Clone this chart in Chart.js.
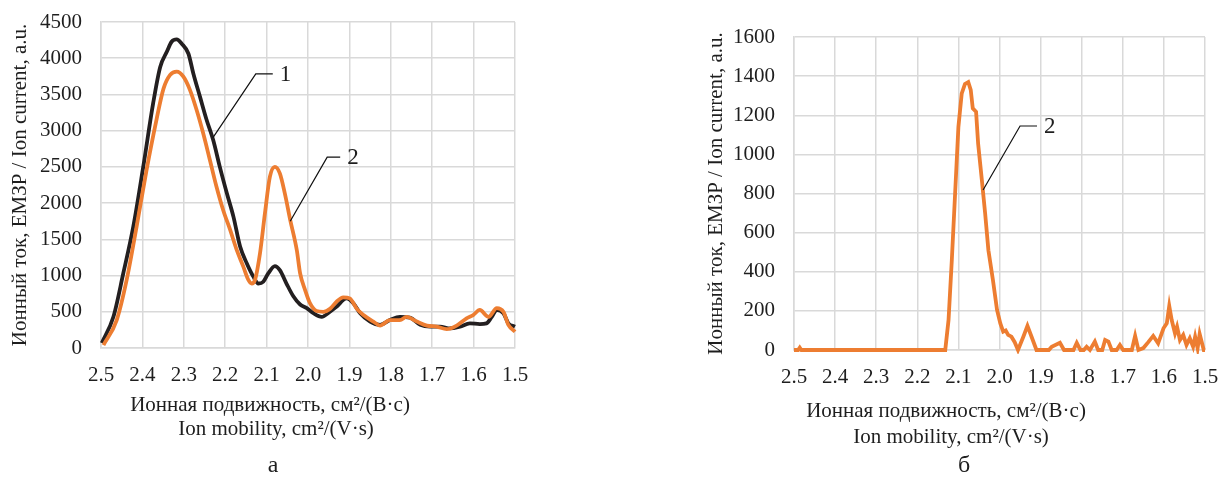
<!DOCTYPE html>
<html>
<head>
<meta charset="utf-8">
<script src="https://cdn.jsdelivr.net/npm/chart.js@4.4.1/dist/chart.umd.min.js"></script>
<style>
  html, body { margin: 0; padding: 0; background: #fff; }
  #page { position: relative; width: 1218px; height: 479px; overflow: hidden; }
  .panel { position: absolute; top: 0; width: 609px; height: 479px; }
</style>
</head>
<body>
<div id="page">
  <div class="panel" style="left:0"><canvas id="chartA" width="609" height="479"></canvas></div>
  <div class="panel" style="left:609px"><canvas id="chartB" width="609" height="479"></canvas></div>
</div>
<script>
// ---- Panel а: ion-mobility spectra 1 and 2 ----
const mobilityA1 = [2.498, 2.47, 2.446, 2.422, 2.398, 2.374, 2.357, 2.341, 2.329, 2.317, 2.305, 2.289, 2.277, 2.261, 2.245, 2.229, 2.213, 2.196, 2.18, 2.164, 2.148, 2.132, 2.12, 2.108, 2.096, 2.08, 2.068, 2.052, 2.035, 2.019, 2.003, 1.987, 1.967, 1.947, 1.931, 1.907, 1.89, 1.874, 1.85, 1.826, 1.802, 1.778, 1.754, 1.729, 1.705, 1.681, 1.657, 1.633, 1.609, 1.585, 1.569, 1.556, 1.544, 1.528, 1.516, 1.5];
const currentA1  = [69, 432, 1035, 1675, 2500, 3380, 3880, 4090, 4230, 4260, 4200, 4065, 3790, 3470, 3150, 2870, 2500, 2135, 1810, 1400, 1170, 985, 890, 915, 1030, 1130, 1075, 890, 710, 600, 550, 480, 430, 500, 570, 685, 615, 480, 365, 320, 385, 430, 420, 320, 295, 295, 270, 295, 340, 330, 340, 430, 525, 480, 340, 295];

const mobilityA2 = [2.494, 2.462, 2.438, 2.414, 2.39, 2.366, 2.349, 2.333, 2.317, 2.301, 2.285, 2.269, 2.253, 2.237, 2.221, 2.205, 2.188, 2.172, 2.156, 2.144, 2.136, 2.128, 2.116, 2.104, 2.092, 2.08, 2.068, 2.056, 2.043, 2.027, 2.019, 2.007, 1.995, 1.979, 1.963, 1.947, 1.931, 1.915, 1.899, 1.882, 1.866, 1.842, 1.826, 1.802, 1.778, 1.762, 1.737, 1.713, 1.689, 1.665, 1.641, 1.617, 1.601, 1.585, 1.564, 1.544, 1.528, 1.516, 1.5];
const currentA2  = [41, 386, 940, 1675, 2455, 3150, 3580, 3770, 3815, 3745, 3560, 3285, 2960, 2595, 2225, 1905, 1630, 1350, 1120, 940, 890, 940, 1305, 1860, 2365, 2500, 2410, 2135, 1770, 1350, 1030, 800, 615, 510, 500, 540, 640, 700, 685, 540, 455, 365, 310, 385, 385, 430, 365, 310, 295, 260, 310, 410, 455, 525, 430, 550, 500, 320, 225];

// ---- Panel б: spectrum 2 ----
const mobilityB2 = [2.5, 2.49, 2.486, 2.482, 2.132, 2.124, 2.116, 2.108, 2.1, 2.092, 2.084, 2.076, 2.07, 2.065, 2.057, 2.052, 2.043, 2.035, 2.027, 2.016, 2.006, 1.998, 1.991, 1.985, 1.979, 1.971, 1.963, 1.955, 1.942, 1.932, 1.922, 1.91, 1.88, 1.873, 1.853, 1.843, 1.82, 1.812, 1.803, 1.795, 1.788, 1.78, 1.768, 1.76, 1.75, 1.743, 1.735, 1.727, 1.715, 1.707, 1.699, 1.678, 1.67, 1.662, 1.65, 1.638, 1.626, 1.614, 1.601, 1.593, 1.587, 1.581, 1.573, 1.568, 1.561, 1.553, 1.545, 1.537, 1.529, 1.524, 1.518, 1.513, 1.503, 1.5];
const currentB2  = [0, 0, 12, 0, 0, 153, 460, 800, 1140, 1310, 1360, 1370, 1330, 1235, 1218, 1055, 870, 700, 510, 358, 205, 136, 94, 100, 77, 68, 40, 0, 68, 123, 68, 0, 0, 17, 37, 0, 0, 37, 0, 0, 17, 0, 43, 0, 0, 51, 43, 0, 0, 26, 0, 0, 72, 0, 10, 40, 72, 34, 111, 136, 225, 153, 85, 119, 51, 77, 26, 60, 17, 68, 9, 82, 0, 0];

// ---- Axis ticks ----
const mobilityTicks = ['2.5', '2.4', '2.3', '2.2', '2.1', '2.0', '1.9', '1.8', '1.7', '1.6', '1.5'];
const currentTicksA = [0, 500, 1000, 1500, 2000, 2500, 3000, 3500, 4000, 4500];
const currentTicksB = [0, 200, 400, 600, 800, 1000, 1200, 1400, 1600];

// ---- Texts ----
const yTitle = 'Ионный ток, ЕМЗР / Ion current, a.u.';
const xTitle = ['Ионная подвижность, см²/(В·с)', 'Ion mobility, cm²/(V·s)'];

const SERIF = '"Liberation Serif", "Times New Roman", serif';
const TEXT = '#1e1e1e';
const GRID = '#d9d9d9';
const ORANGE = '#ED7D31';
const BLACK = '#231F20';

const zip = (xs, ys) => xs.map((x, i) => ({ x: x, y: ys[i] }));

// Draws the axis titles, panel letter and numbered leader callouts.
const figureText = {
  id: 'figureText',
  afterDraw(chart, args, o) {
    const ctx = chart.ctx;
    const area = chart.chartArea;
    ctx.save();
    ctx.fillStyle = TEXT;
    ctx.textAlign = 'center';
    ctx.textBaseline = 'middle';

    ctx.save();
    ctx.translate(o.yTitleX, (area.top + area.bottom) / 2);
    ctx.rotate(-Math.PI / 2);
    ctx.font = '21px ' + SERIF;
    ctx.fillText(yTitle, 0, 0);
    ctx.restore();

    ctx.font = '21px ' + SERIF;
    xTitle.forEach((line, i) => ctx.fillText(line, o.xTitlePos[i][0], o.xTitlePos[i][1]));

    ctx.font = '24px ' + SERIF;
    ctx.fillText(o.letter, o.letterPos[0], o.letterPos[1]);

    const xs = chart.scales.x, ys = chart.scales.y;
    o.callouts.forEach(c => {
      const x0 = xs.getPixelForValue(c.x), y0 = ys.getPixelForValue(c.y);
      const x1 = x0 + c.dx, y1 = y0 + c.dy, x2 = x1 + c.run;
      ctx.beginPath();
      ctx.moveTo(x0, y0);
      ctx.lineTo(x1, y1);
      ctx.lineTo(x2, y1);
      ctx.lineWidth = 1.2;
      ctx.strokeStyle = '#111';
      ctx.stroke();
      ctx.font = '23px ' + SERIF;
      ctx.textAlign = 'left';
      ctx.fillText(c.label, x2 + 7, y1 + 1);
    });
    ctx.restore();
  }
};

function makePanel(canvasId, cfg) {
  const yAxisW = 101;
  return new Chart(document.getElementById(canvasId), {
    type: 'line',
    data: { datasets: cfg.datasets },
    options: {
      responsive: false,
      animation: false,
      events: [],
      layout: {
        padding: {
          left: cfg.plot.left - yAxisW,
          top: cfg.plot.top,
          right: 609 - cfg.plot.right,
          bottom: 0
        }
      },
      plugins: {
        legend: { display: false },
        tooltip: { enabled: false },
        figureText: cfg.text
      },
      elements: { point: { radius: 0 } },
      scales: {
        x: {
          type: 'linear',
          reverse: true,
          min: 1.5,
          max: 2.5,
          afterBuildTicks: s => { s.ticks = mobilityTicks.map(t => ({ value: parseFloat(t) })); },
          afterFit: s => { s.height = 479 - cfg.plot.bottom; s.paddingLeft = 0; s.paddingRight = 0; },
          grid: { color: GRID, lineWidth: 1.5, drawTicks: false },
          border: { color: GRID, width: 1.5 },
          ticks: {
            padding: cfg.xTickPad,
            color: TEXT,
            font: { family: SERIF, size: 21 },
            maxRotation: 0,
            autoSkip: false,
            callback: (v) => mobilityTicks.find(t => Math.abs(parseFloat(t) - v) < 1e-6) || ''
          }
        },
        y: {
          type: 'linear',
          min: 0,
          max: cfg.yTicks[cfg.yTicks.length - 1],
          afterBuildTicks: s => { s.ticks = cfg.yTicks.map(v => ({ value: v })); },
          afterFit: s => { s.width = yAxisW; s.paddingTop = 0; s.paddingBottom = 0; },
          grid: { color: GRID, lineWidth: 1.5, drawTicks: false },
          border: { color: GRID, width: 1.5 },
          ticks: {
            padding: 19,
            color: TEXT,
            font: { family: SERIF, size: 21 },
            autoSkip: false,
            callback: v => String(v)
          }
        }
      }
    },
    plugins: [figureText]
  });
}

makePanel('chartA', {
  plot: { left: 101, right: 515, top: 22, bottom: 348 },
  xTickPad: 15,
  yTicks: currentTicksA,
  datasets: [
    { label: '1', data: zip(mobilityA1, currentA1), borderColor: BLACK, borderWidth: 3.8,
      cubicInterpolationMode: 'monotone', order: 2, clip: 4 },
    { label: '2', data: zip(mobilityA2, currentA2), borderColor: ORANGE, borderWidth: 3.8,
      cubicInterpolationMode: 'monotone', order: 1, clip: 4 }
  ],
  text: {
    yTitleX: 20,
    xTitlePos: [[270, 405], [276, 429]],
    letter: 'а',
    letterPos: [273, 466],
    callouts: [
      { label: '1', x: 2.23, y: 2900, dx: 43, dy: -64, run: 17 },
      { label: '2', x: 2.043, y: 1750, dx: 37, dy: -64, run: 13 }
    ]
  }
});

makePanel('chartB', {
  plot: { left: 185, right: 596, top: 37, bottom: 350 },
  xTickPad: 15,
  yTicks: currentTicksB,
  datasets: [
    { label: '2', data: zip(mobilityB2, currentB2), borderColor: ORANGE, borderWidth: 3.8,
      tension: 0, order: 1, clip: 4 }
  ],
  text: {
    yTitleX: 107,
    xTitlePos: [[337, 411], [342, 437]],
    letter: 'б',
    letterPos: [355, 466],
    callouts: [
      { label: '2', x: 2.04, y: 818, dx: 37, dy: -64, run: 17 }
    ]
  }
});
</script>
</body>
</html>
